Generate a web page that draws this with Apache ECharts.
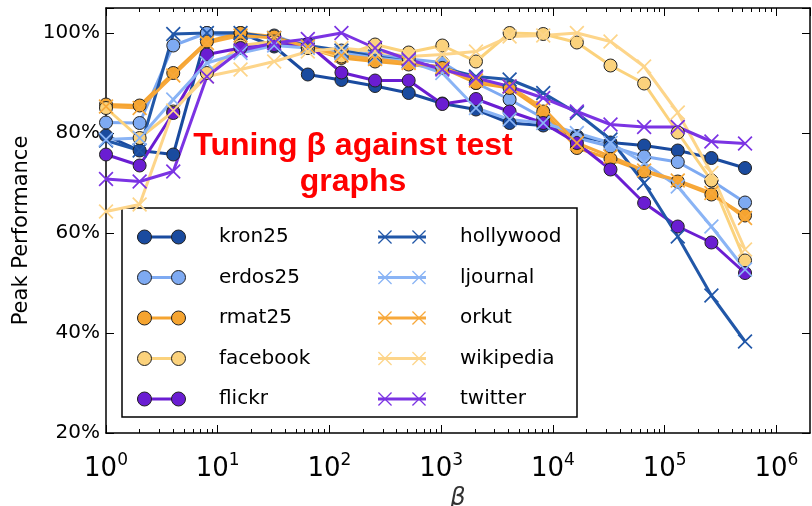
<!DOCTYPE html>
<html>
<head>
<meta charset="utf-8">
<script src="https://cdn.jsdelivr.net/npm/echarts@6/dist/echarts.min.js"></script>
<style>
  html, body { margin: 0; padding: 0; background: #fff; }
  #chart { width: 812px; height: 506px; }
</style>
</head>
<body>
<div id="chart"></div>
<script>
  // beta values (x), powers of two
  const betas = [1, 2, 4, 8, 16, 32, 64, 128, 256, 512, 1024, 2048, 4096, 8192,
    16384, 32768, 65536, 131072, 262144, 524288]

  // peak performance, in percent
  const kron25 = [79.5, 76.5, 75.7, 100, 100, 97.3, 91.7, 90.6, 89.4, 88, 85.9, 84.7, 82, 81.5, 79.4, 78.1, 77.5, 76.5, 75, 73]
  const erdos25 = [82.1, 82, 97.5, 100, 99, 99.5, 97, 96.5, 95.7, 94.8, 94.1, 90, 86.7, 83, 79, 77.3, 75.3, 74.2, 70.5, 66.1]
  const rmat25 = [85.7, 85.5, 92, 98.3, 100, 99.3, 97, 95, 94.3, 93.7, 93, 90, 89, 84.3, 77, 74.8, 72.3, 70.3, 67.7, 63.5]
  const facebook = [85, 79, 84.3, 92, 97.5, 98.3, 97, 95.3, 97.7, 96.1, 97.5, 94.3, 100, 99.8, 98.1, 93.5, 89.9, 80.1, 70.5, 54.5]
  const flickr = [75.7, 73.5, 84, 95.7, 97, 97.6, 97.8, 92.1, 90.5, 90.5, 85.8, 86.8, 84.3, 82, 78, 72.7, 66, 61.3, 58.1, 52]
  const hollywood = [78.5, 76.5, 99.8, 100, 100, 99, 97.5, 96.5, 95.3, 94.3, 93, 91.3, 90.7, 88, 84, 78.7, 70, 59.3, 47.5, 38.3]
  const ljournal = [78.7, 79, 86.7, 94, 96, 97.5, 97, 96, 95, 94.3, 92, 85, 82.7, 82, 80, 78, 74, 69.3, 61.3, 52.7]
  const orkut = [85.3, 85, 91.5, 98, 99.5, 99, 97.3, 95.5, 94.8, 94, 93.2, 90.5, 89.3, 85, 78, 75.3, 72.5, 70.5, 68, 63]
  const wikipedia = [64.3, 65.7, 84.5, 91.3, 92.7, 94.3, 96.3, 97, 96.3, 95.3, 95.7, 96.3, 99.3, 99.5, 100, 98.3, 93.3, 84.1, 72, 56.7]
  const twitter = [70.8, 70.3, 72.3, 91.3, 96.5, 98, 98.8, 100, 97, 94.7, 92.7, 91, 89.3, 87, 84.3, 81.7, 81.2, 81.2, 78.3, 77.9]

  const yTicks = [20, 40, 60, 80, 100]

  const lines = [
    { name: 'kron25', data: kron25, color: '#1a4b9f', marker: 'circle' },
    { name: 'erdos25', data: erdos25, color: '#7eaaf2', marker: 'circle' },
    { name: 'rmat25', data: rmat25, color: '#f5a430', marker: 'circle' },
    { name: 'facebook', data: facebook, color: '#fbd27c', marker: 'circle' },
    { name: 'flickr', data: flickr, color: '#6a1dd2', marker: 'circle' },
    { name: 'hollywood', data: hollywood, color: '#2157a8', marker: 'cross' },
    { name: 'ljournal', data: ljournal, color: '#8ab4f5', marker: 'cross' },
    { name: 'orkut', data: orkut, color: '#f7a83a', marker: 'cross' },
    { name: 'wikipedia', data: wikipedia, color: '#fdd58a', marker: 'cross' },
    { name: 'twitter', data: twitter, color: '#7b33e3', marker: 'cross' }
  ]

  const crossPath = 'path://M0,0.8L0.8,0L10,9.2L9.2,10Z M9.2,0L10,0.8L0.8,10L0,9.2Z'
  // legend icons: matplotlib style, a marker at each end of the line
  const legendLineIcon = 'path://M0,0L0.01,0L0,0.01Z M0,5.5H48V8.5H0Z M48,14L47.99,14L48,13.99Z'
  const legendCircleIcon = 'path://M0,7a7,7 0 1,0 14,0a7,7 0 1,0 -14,0Z M34,7a7,7 0 1,0 14,0a7,7 0 1,0 -14,0Z'
  const legendCrossIcon = 'path://M0,0.9L0.9,0L14,13.1L13.1,14Z M13.1,0L14,0.9L0.9,14L0,13.1Z ' +
    'M34,0.9L34.9,0L48,13.1L47.1,14Z M47.1,0L48,0.9L34.9,14L34,13.1Z'

  const sans = '"DejaVu Sans", sans-serif'
  const titleFont = 'bold 32px "Liberation Sans Narrow", "Liberation Sans", sans-serif'
  const xMin = 1
  const xMax = 2000000

  // minor ticks 2..9 of every decade
  const minorTicks = []
  for (let p = 1; p <= 1000000; p *= 10) {
    for (let m = 2; m <= 9; m++) {
      if (m * p < xMax) minorTicks.push(m * p)
    }
  }

  const series = lines.map((s) => ({
    name: s.name,
    type: 'line',
    data: betas.map((b, i) => [b, s.data[i]]),
    symbol: s.marker === 'circle' ? 'circle' : crossPath,
    symbolSize: s.marker === 'circle' ? 13 : 15,
    showAllSymbol: true,
    clip: false,
    lineStyle: { color: s.color, width: 3 },
    itemStyle: s.marker === 'circle'
      ? { color: s.color, borderColor: '#222', borderWidth: 1 }
      : { color: s.color, borderWidth: 0 },
    emphasis: { disabled: true },
    animation: false
  }))

  const axisLine = { show: true, lineStyle: { color: '#000', width: 1.5 } }
  const tickLine = { color: '#000', width: 1 }

  const xAxisBase = (position, major, showLabel) => ({
    type: 'log',
    logBase: 10,
    min: xMin,
    max: xMax,
    position: position,
    axisLine: major ? axisLine : { show: false },
    axisTick: major
      ? { show: true, inside: true, length: 8, lineStyle: tickLine }
      : { show: true, inside: true, length: 4, lineStyle: tickLine, customValues: minorTicks },
    axisLabel: showLabel
      ? {
          show: true,
          margin: 19,
          formatter: (v) => '{b|10}{s|' + Math.round(Math.log10(v)) + '}',
          rich: {
            b: { fontSize: 26, fontFamily: sans, color: '#000', lineHeight: 30, verticalAlign: 'bottom' },
            s: { fontSize: 17, fontFamily: sans, color: '#000', lineHeight: 18, verticalAlign: 'top' }
          }
        }
      : { show: false },
    splitLine: { show: false }
  })

  // two stacked legends per column: the coloured line underneath, the end markers on top
  const legendBase = (col, layer) => ({
    data: lines.slice(col * 5, col * 5 + 5).map((s) => ({
      name: s.name,
      icon: layer === 'line' ? legendLineIcon : (s.marker === 'circle' ? legendCircleIcon : legendCrossIcon),
      itemStyle: layer === 'line' || s.marker === 'cross'
        ? { color: s.color, borderWidth: 0 }
        : { color: s.color, borderColor: '#222', borderWidth: 1 }
    })),
    orient: 'vertical',
    left: col === 0 ? 132 : 373,
    top: 221,
    itemWidth: 48,
    itemHeight: 14,
    itemGap: 18.5,
    selectedMode: false,
    z: layer === 'line' ? 4 : 5,
    textStyle: {
      fontSize: 20,
      lineHeight: 22,
      color: layer === 'line' ? '#000' : 'rgba(0,0,0,0)',
      fontFamily: sans,
      padding: [0, 0, 0, 29]
    }
  })

  const chart = echarts.init(document.getElementById('chart'))
  chart.setOption({
    animation: false,
    backgroundColor: '#fff',
    grid: { left: 106, right: 2, top: 8, bottom: 73, containLabel: false, outerBoundsMode: 'none' },
    xAxis: [
      Object.assign(xAxisBase('bottom', true, true), {
        name: 'β',
        nameLocation: 'middle',
        nameGap: 52,
        nameTextStyle: { fontSize: 24, fontStyle: 'italic', color: '#333', fontFamily: sans }
      }),
      xAxisBase('bottom', false, false),
      xAxisBase('top', true, false),
      xAxisBase('top', false, false)
    ],
    yAxis: [
      {
        type: 'value',
        min: 20,
        max: 105,
        interval: 20,
        position: 'left',
        axisLine: axisLine,
        axisTick: { show: true, inside: true, length: 8, lineStyle: tickLine },
        axisLabel: {
          formatter: (v) => (yTicks.indexOf(v) >= 0 ? v + '%' : ''),
          fontSize: 20,
          fontFamily: sans,
          color: '#000',
          margin: 6
        },
        splitLine: { show: false },
        name: 'Peak Performance',
        nameLocation: 'middle',
        nameGap: 74,
        nameTextStyle: { fontSize: 21, color: '#000', fontFamily: sans, padding: [0, 0, 0, -20] }
      },
      {
        type: 'value',
        min: 20,
        max: 105,
        interval: 20,
        position: 'right',
        axisLine: axisLine,
        axisTick: { show: true, inside: true, length: 8, lineStyle: tickLine },
        axisLabel: { show: false },
        splitLine: { show: false }
      }
    ],
    legend: [
      legendBase(0, 'line'),
      legendBase(0, 'marker'),
      legendBase(1, 'line'),
      legendBase(1, 'marker')
    ],
    graphic: [
      {
        type: 'rect',
        z: 3,
        shape: { x: 122, y: 208, width: 455, height: 209 },
        style: { fill: '#fff', stroke: '#000', lineWidth: 1.5 }
      },
      {
        type: 'text',
        z: 10,
        x: 353,
        y: 146,
        style: { text: 'Tuning β against test', fill: '#ff0000', font: titleFont, align: 'center', verticalAlign: 'middle' }
      },
      {
        type: 'text',
        z: 10,
        x: 353,
        y: 182,
        style: { text: 'graphs', fill: '#ff0000', font: titleFont, align: 'center', verticalAlign: 'middle' }
      }
    ],
    series: series
  })
</script>
</body>
</html>
